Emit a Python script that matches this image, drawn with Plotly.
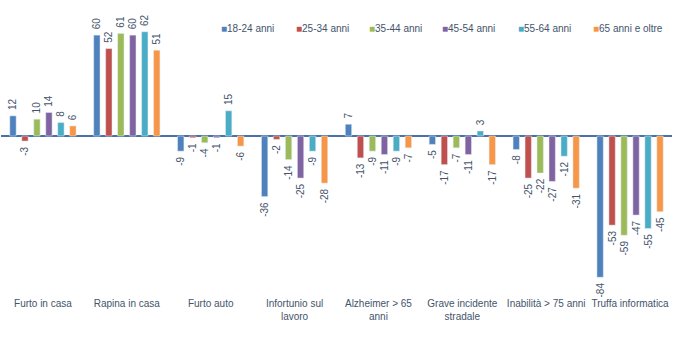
import plotly.graph_objects as go

categories = [
    "Furto in casa", "Rapina in casa", "Furto auto", "Infortunio sul<br>lavoro",
    "Alzheimer > 65<br>anni", "Grave incidente<br>stradale", "Inabilità > 75 anni",
    "Truffa informatica",
]
series_names = ["18-24 anni", "25-34 anni", "35-44 anni", "45-54 anni", "55-64 anni", "65 anni e oltre"]
values_18_24 = [12, 60, -9, -36, 7, -5, -8, -84]
values_25_34 = [-3, 52, -1, -2, -13, -17, -25, -53]
values_35_44 = [10, 61, -4, -14, -9, -7, -22, -59]
values_45_54 = [14, 60, -1, -25, -11, -11, -27, -47]
values_55_64 = [8, 62, 15, -9, -9, 3, -12, -55]
values_65_plus = [6, 51, -6, -28, -7, -17, -31, -45]
colors = ["#4F81BD", "#C0504D", "#9BBB59", "#8064A2", "#4BACC6", "#F79646"]

series_values = [values_18_24, values_25_34, values_35_44, values_45_54, values_55_64, values_65_plus]
text_color = "#44546A"
font_family = "Liberation Sans, Arial, sans-serif"
NBSP = "\u00a0"


def bar_label(v):
    # plain hyphen for negatives, with a small gap towards the bar end
    return f"{NBSP}{v}" if v >= 0 else f"-{abs(v)}{NBSP}"


fig = go.Figure()
for name, vals, col in zip(series_names, series_values, colors):
    fig.add_trace(go.Bar(
        x=categories, y=vals, name=name, marker_color=col,
        text=[bar_label(v) for v in vals], texttemplate="%{text}",
        textposition="outside", textangle=-90,
        constraintext="none", cliponaxis=False,
        textfont=dict(size=10, color=text_color, family=font_family),
        showlegend=False,
    ))

# Legend drawn as a row of coloured squares with labels
legend_x = [219, 294, 367, 440, 516, 591]
for name, col, lx in zip(series_names, colors, legend_x):
    fig.add_annotation(
        xref="paper", yref="paper", x=(lx - 1) / 671, y=(284 - 29) / 264,
        xanchor="left", yanchor="middle", showarrow=False,
        text=f"<span style='color:{col}'>■</span>{name}",
        font=dict(size=10, color=text_color, family=font_family),
    )

fig.update_layout(
    width=681, height=347,
    margin=dict(l=1, r=9, t=20, b=63),
    paper_bgcolor="white", plot_bgcolor="white",
    barmode="group", bargap=0.143, bargroupgap=0.47,
    font=dict(family=font_family, size=10, color=text_color),
    xaxis=dict(showgrid=False, ticks="", showline=False, ticklabelstandoff=12,
               tickfont=dict(size=10, color=text_color)),
    yaxis=dict(range=[-88, 69], showgrid=False, showticklabels=False, ticks="",
               zeroline=True, zerolinecolor="#4A72A8", zerolinewidth=2),
)

fig.write_html("out.html")
